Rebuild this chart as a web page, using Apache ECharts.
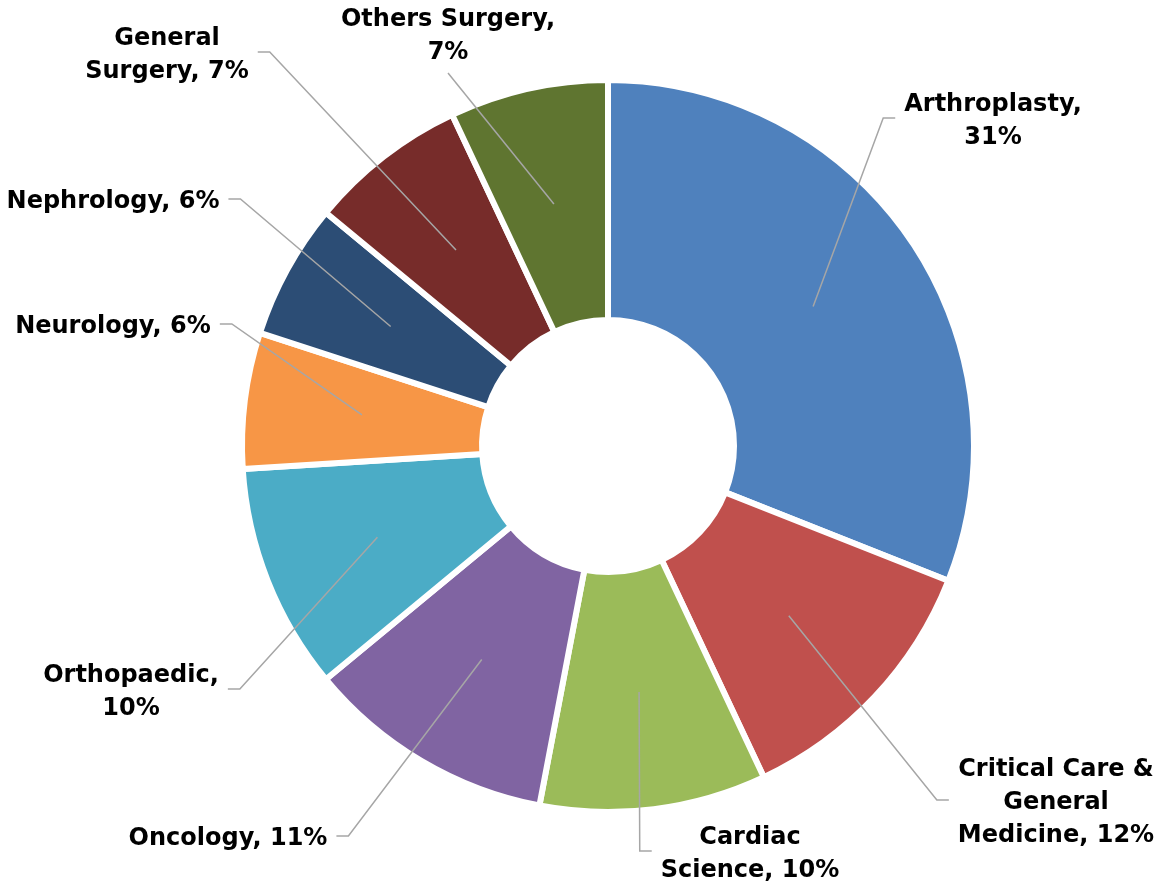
<!DOCTYPE html>
<html>
<head>
<meta charset="utf-8">
<script src="https://cdn.jsdelivr.net/npm/echarts@6/dist/echarts.min.js"></script>
<style>
  html, body { margin: 0; padding: 0; background: #fff; }
  #chart { width: 1160px; height: 885px; }
</style>
</head>
<body>
<div id="chart"></div>
<script>
const categories = ['Arthroplasty', 'Critical Care & General Medicine', 'Cardiac Science', 'Oncology',
  'Orthopaedic', 'Neurology', 'Nephrology', 'General Surgery', 'Others Surgery'];
const shares = [31, 12, 10, 11, 10, 6, 6, 7, 7];
// label text as it wraps in the original
const labelNames = ['Arthroplasty,\n', 'Critical Care &\nGeneral\nMedicine, ', 'Cardiac\nScience, ', 'Oncology, ',
  'Orthopaedic,\n', 'Neurology, ', 'Nephrology, ', 'General\nSurgery, ', 'Others Surgery,\n'];
const colors = ['#4F81BD', '#C0504D', '#9BBB59', '#8064A2', '#4BACC6', '#F79646', '#2C4D75', '#772C2A', '#5F7530'];

// where each label block sits (centre x, centre y) and which side the leader comes in from
const labelSpots = [
  [993, 121, 'r'], [1056, 803, 'r'], [750, 854, 'r'], [228, 839, 'l'], [131, 692, 'l'],
  [113, 327, 'l'], [113, 202, 'l'], [167, 55, 'l'], [448, 36, 'b']
];

const center = [608, 446];
const chart = echarts.init(document.getElementById('chart'));

const pieData = categories.map((name, i) => ({ name, value: shares[i] }));

chart.setOption({
  animation: false,
  color: colors,
  series: [
    {
      type: 'pie',
      z: 2,
      center: center,
      radius: [126, 366],
      startAngle: 90,
      silent: true,
      label: { show: false },
      labelLine: { show: false },
      itemStyle: { borderColor: '#fff', borderWidth: 6 },
      data: pieData
    },
    {
      // invisible inner pie: its label lines start mid-ring like Excel's leaders
      type: 'pie',
      z: 5,
      center: center,
      radius: [0, 248],
      startAngle: 90,
      silent: true,
      avoidLabelOverlap: false,
      itemStyle: { color: 'rgba(0,0,0,0)' },
      label: {
        show: true,
        position: 'outside',
        overflow: 'none',
        color: '#000',
        fontFamily: 'DejaVu Sans',
        fontWeight: 'bold',
        fontSize: 24,
        lineHeight: 33,
        formatter: (p) => labelNames[p.dataIndex] + Math.round(p.percent) + '%'
      },
      labelLine: {
        show: true,
        length: 10,
        length2: 10,
        lineStyle: { color: '#A6A6A6', width: 1.5, opacity: 1 }
      },
      labelLayout: (params) => {
        const spot = labelSpots[params.dataIndex];
        const w = params.labelRect.width;
        const h = params.labelRect.height;
        const start = params.labelLinePoints ? params.labelLinePoints[0] : center;
        let end, bend;
        if (spot[2] === 'r') {
          end = [spot[0] - w / 2 - 9, spot[1] - 3];
          bend = [end[0] - 12, end[1]];
        } else if (spot[2] === 'l') {
          end = [spot[0] + w / 2 + 9, spot[1] - 3];
          bend = [end[0] + 12, end[1]];
        } else {
          end = [spot[0], spot[1] + h / 2 + 4];
          bend = end;
        }
        return {
          x: spot[0],
          y: spot[1],
          align: 'center',
          verticalAlign: 'middle',
          labelLinePoints: [start, bend, end]
        };
      },
      data: pieData
    }
  ]
});
</script>
</body>
</html>
